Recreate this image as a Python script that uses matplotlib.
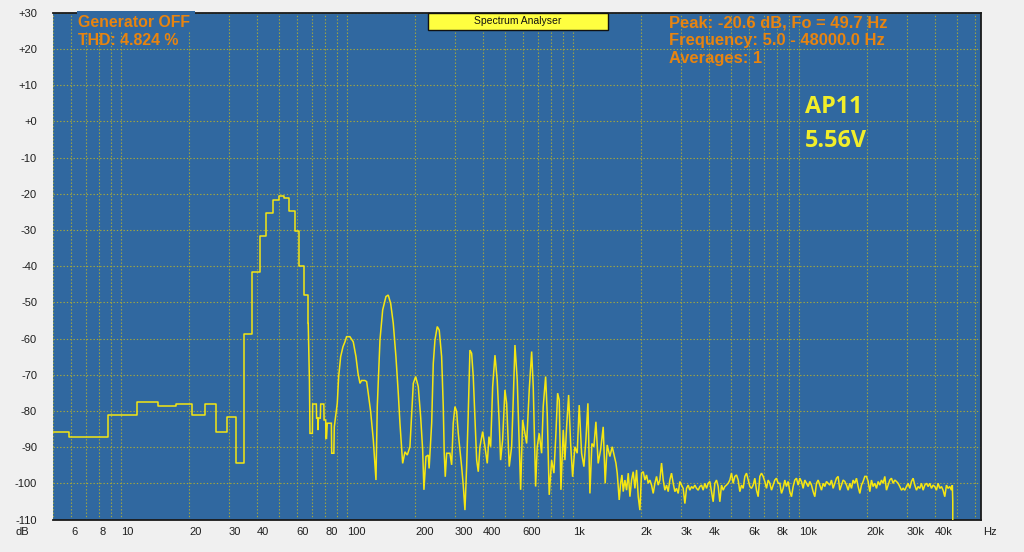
import matplotlib
matplotlib.use("Agg")
import matplotlib.pyplot as plt
from matplotlib.patches import Rectangle

# ---------------- data ----------------
# low-frequency FFT bins (drawn as steps)
bin_freq = [5.0, 5.86, 8.79, 11.72, 14.65, 17.58, 20.51, 23.44, 26.37, 29.30, 32.23,
            35.16, 38.09, 41.02, 43.95, 46.88, 49.80, 52.73, 55.66, 58.59, 61.52,
            64.45, 67.38]
bin_db = [-85.7, -87.3, -81.1, -77.5, -78.6, -78.1, -81.0, -78.1, -85.7, -81.8, -94.3,
          -58.8, -41.6, -31.7, -25.2, -21.7, -20.6, -21.3, -24.7, -30.2, -40.0,
          -48.0, -55.8]

# harmonic region
mid_freq = [67.38, 68.2, 68.6, 70.3, 70.5, 73.2, 73.4, 74.2, 74.4, 74.8, 76.2, 76.5,
            79.0, 79.2, 80.5, 80.7, 81.2, 81.8, 85.3, 85.6, 87.5, 87.9, 90.6, 91.9,
            93.8, 96.0, 98.0, 99.6, 103.0, 106.6, 109.6, 111.9, 114.2, 116.0, 120.0,
            122.2, 124.2, 127.3, 130.8, 134.4, 136.2, 140.0, 143.9, 148.8, 152.3,
            156.1, 160.3, 164.7, 168.7, 171.6, 176.4, 180.6, 184.9, 190.0, 193.4,
            196.6, 201.4, 206.8, 211.9, 216.3, 219.1, 223.7, 229.0, 231.0, 237.1,
            241.0, 245.2, 251.0, 256.1, 262.4, 266.8, 269.5, 272.3, 276.2, 285.6,
            290.6, 295.4, 300.6, 305.8, 310.9, 321.8, 327.1, 332.8, 338.6, 344.2,
            350.2, 356.3, 362.2, 368.6, 375.0, 381.2, 387.8, 398.6, 408.1, 417.8,
            425.1, 432.5, 441.4, 451.9, 462.4, 472.0, 478.7, 488.6, 500.2, 509.0,
            522.6, 535.6, 544.4, 554.0, 567.1, 578.8, 587.1, 599.1, 613.4, 624.1,
            640.8, 656.8, 667.5, 683.9, 695.1, 709.5, 727.0, 739.0, 757.3, 769.7,
            785.5, 805.1, 824.1, 841.1, 855.8, 869.9, 885.1, 906.1, 921.9, 938.0,
            957.3, 977.0, 997.0, 1020.5, 1044.7, 1066.3, 1092.6, 1118.6, 1141.6,
            1165.2, 1189.1, 1213.6, 1238.5, 1264.1, 1293.9, 1326.1, 1361.7, 1389.6,
            1418.3, 1457.8, 1492.4]
mid_db = [-55.8, -71.3, -86.2, -86.2, -78.1, -78.1, -82.0, -82.0, -85.3, -82.0, -82.0, -78.1,
          -78.1, -82.5, -82.5, -87.6, -87.6, -83.4, -83.4, -91.7, -91.7, -84.4, -77.9, -70.5,
          -65.0, -62.3, -60.9, -59.5, -59.5, -60.9, -65.0, -69.6, -72.4, -71.6, -71.6,
          -71.9, -75.1, -80.2, -88.0, -99.1, -78.8, -60.4, -52.1, -48.4, -48.0,
          -50.3, -55.8, -65.0, -75.1, -83.4, -94.5, -91.3, -92.2, -89.9, -80.7,
          -72.4, -70.5, -73.3, -81.6, -90.8, -101.8, -92.6, -92.2, -95.9, -83.4,
          -66.9, -60.4, -56.7, -57.7, -65.0, -78.8, -91.7, -98.2, -91.7, -91.7,
          -94.9, -83.4, -78.8, -80.2, -86.2, -95.4, -100.5, -107.4, -95.4, -80.7,
          -63.2, -64.1, -70.5, -82.5, -93.6, -96.8, -89.9, -85.7, -89.9, -94.5,
          -87.1, -89.9, -73.3, -64.6, -71.5, -83.4, -93.6, -88.0, -74.2, -77.9,
          -95.4, -89.9, -77.0, -61.8, -71.5, -89.9, -101.8, -82.5, -86.2, -89.0,
          -74.2, -63.6, -73.3, -100.9, -89.9, -86.2, -91.7, -78.8, -70.5, -80.7,
          -103.2, -93.6, -97.2, -86.2, -75.1, -77.0, -101.8, -85.3, -93.6, -84.4,
          -75.6, -89.0, -98.2, -89.9, -91.7, -78.4, -91.7, -95.4, -88.0,
          -77.9, -102.8, -89.0, -89.9, -83.0, -94.5, -90.8, -84.4, -100.0,
          -89.4, -92.6, -89.9]

# noise floor region
hf_freq = [1550, 1571, 1603, 1626, 1648, 1670, 1699, 1728, 1758, 1788, 1818, 1849, 1881,
           1913, 1946, 1979, 2013, 2048, 2083, 2118, 2155, 2191, 2229, 2267, 2306, 2345,
           2385, 2426, 2468, 2510, 2553, 2597, 2641, 2686, 2732, 2779, 2827, 2875, 2924,
           2974, 3025, 3077, 3130, 3183, 3238, 3293, 3350, 3407, 3465, 3525, 3585, 3646,
           3709, 3772, 3837, 3903, 3969, 4037, 4107, 4177, 4248, 4321, 4395, 4470, 4547,
           4625, 4704, 4784, 4866, 4950, 5034, 5121, 5208, 5298, 5388, 5481, 5575, 5670,
           5767, 5866, 5966, 6068, 6172, 6278, 6385, 6495, 6606, 6719, 6834, 6951, 7070,
           7191, 7314, 7440, 7567, 7697, 7828, 7962, 8099, 8237, 8378, 8522, 8668, 8816,
           8967, 9120, 9277, 9436, 9597, 9762, 9929, 10099, 10272, 10448, 10627, 10809,
           10994, 11182, 11374, 11569, 11767, 11968, 12173, 12382, 12594, 12810, 13029,
           13252, 13479, 13710, 13945, 14184, 14427, 14674, 14925, 15181, 15441, 15705,
           15974, 16248, 16526, 16809, 17097, 17390, 17688, 17991, 18299, 18612, 18931,
           19255, 19585, 19920, 20261, 20608, 20961, 21320, 21685, 22057, 22434, 22819,
           23209, 23607, 24011, 24422, 24841, 25266, 25699, 26139, 26587, 27042, 27505,
           27976, 28455, 28943, 29438, 29943, 30455, 30977, 31507, 32047, 32596, 33154,
           33722, 34299, 34887, 35484, 36092, 36710, 37339, 37978, 38629, 39290, 39963,
           40648, 41344, 42052, 42772, 43505, 44250, 45008, 45779, 46562, 47360, 47800,
           48000, 48001]
hf_db = [-94.4, -97.2, -104.6, -100.0, -97.7, -102.3, -99.1, -101.9, -97.2, -103.7, -99.1,
         -96.8, -101.4, -96.3, -103.7, -107.4, -97.2, -96.8, -99.1, -97.7, -100.0, -99.1,
         -100.5, -102.8, -100.0, -98.1, -100.5, -99.1, -94.4, -99.1, -101.9, -100.5,
         -102.3, -99.1, -97.2, -100.0, -102.3, -101.4, -102.8, -99.5, -100.5, -101.4,
         -105.6, -101.4, -100.5, -101.9, -100.9, -101.4, -100.5, -101.4, -101.9, -100.9,
         -100.5, -101.9, -100.0, -101.4, -100.0, -99.5, -102.3, -105.1, -100.0, -99.1,
         -100.9, -105.1, -100.5, -101.9, -100.9, -100.5, -100.0, -99.1, -97.2, -100.0,
         -98.1, -97.7, -99.1, -102.3, -100.5, -101.4, -98.1, -97.2, -99.1, -100.9,
         -101.4, -100.5, -98.6, -101.9, -103.7, -98.1, -97.2, -98.1, -99.5, -101.4,
         -99.1, -100.0, -101.9, -100.5, -99.1, -98.6, -100.0, -100.0, -102.8, -101.4,
         -99.1, -100.9, -99.5, -102.3, -103.7, -100.9, -99.1, -98.6, -100.5, -98.6,
         -99.5, -101.4, -99.1, -100.0, -100.9, -99.5, -100.5, -102.3, -103.7, -100.0,
         -99.1, -100.5, -101.9, -100.0, -100.9, -99.5, -100.0, -100.5, -99.1, -101.4,
         -100.0, -98.6, -98.1, -101.9, -100.5, -99.1, -99.5, -100.5, -101.9, -100.0,
         -101.4, -99.1, -100.0, -98.6, -100.9, -102.8, -100.5, -99.5, -98.1, -98.1,
         -99.5, -102.3, -99.1, -100.9, -100.0, -101.4, -99.5, -100.5, -99.1, -100.0,
         -98.1, -101.9, -100.5, -99.1, -98.6, -100.0, -99.1, -99.5, -100.0, -100.9,
         -101.9, -101.4, -101.9, -100.9, -100.0, -101.4, -99.5, -98.6, -100.5, -101.9,
         -100.9, -101.4, -100.0, -101.9, -100.5, -100.0, -100.9, -100.0, -101.4,
         -100.5, -100.9, -101.9, -100.0, -101.4, -100.9, -101.9, -103.7, -100.5,
         -101.4, -100.9, -101.9, -100.5, -105.1, -115.0]

grid_freqs = [5, 6, 7, 8, 9, 10, 20, 30, 40, 50, 60, 70, 80, 90, 100, 200, 300, 400, 500,
              600, 700, 800, 900, 1000, 2000, 3000, 4000, 5000, 6000, 7000, 8000, 9000,
              10000, 20000, 30000, 40000, 50000, 60000]
x_labels = {6: "6", 8: "8", 10: "10", 20: "20", 30: "30", 40: "40", 60: "60", 80: "80",
            100: "100", 200: "200", 300: "300", 400: "400", 600: "600", 1000: "1k",
            2000: "2k", 3000: "3k", 4000: "4k", 6000: "6k", 8000: "8k", 10000: "10k",
            20000: "20k", 30000: "30k", 40000: "40k"}
y_ticks = [30, 20, 10, 0, -10, -20, -30, -40, -50, -60, -70, -80, -90, -100, -110]
y_labels = ["+30", "+20", "+10", "+0", "-10", "-20", "-30", "-40", "-50", "-60", "-70",
            "-80", "-90", "-100", "-110"]

# ---------------- styling ----------------
W, H = 1024, 552
BG = "#f0f0f0"
PLOT_BG = "#3068a0"
GRID = "#a6a83c"
LINE = "#f5e612"
ORANGE = "#e8840f"
TICK_FONT = "Liberation Sans"

fig = plt.figure(figsize=(W / 100, H / 100), dpi=100, facecolor=BG)
ax = fig.add_axes([53 / W, 1 - 519.5 / H, 928 / W, 506.8 / H])
ax.set_facecolor(PLOT_BG)
ax.set_xscale("log")
ax.set_xlim(5, 64000)
ax.set_ylim(-110, 30)

ax.set_xticks(grid_freqs)
ax.set_xticklabels([x_labels.get(f, "") for f in grid_freqs])
ax.xaxis.set_minor_locator(plt.NullLocator())
ax.set_yticks(y_ticks)
ax.set_yticklabels(y_labels)
ax.tick_params(axis="both", length=0, labelsize=8, labelcolor="#1e1e1e")
ax.tick_params(axis="x", pad=5.5)
ax.tick_params(axis="y", pad=11.5)
for lab in ax.get_xticklabels() + ax.get_yticklabels():
    lab.set_fontfamily(TICK_FONT)
for lab in ax.get_xticklabels():
    lab.set_horizontalalignment("left")

ax.grid(True, color=GRID, linestyle=(0, (1.2, 1.8)), linewidth=0.8)
ax.set_axisbelow(True)

for side in ("top", "right", "bottom"):
    ax.spines[side].set_color("#1a1a1a")
    ax.spines[side].set_linewidth(1.3)
ax.spines["left"].set_visible(False)

# spectrum
ax.step(bin_freq, bin_db, where="post", color=LINE, linewidth=1.1, zorder=3)
ax.plot(mid_freq + hf_freq, mid_db + hf_db, color=LINE, linewidth=1.1, zorder=3,
        solid_joinstyle="miter")

# axis unit labels
fig.text(15 / W, 1 - 532 / H, "dB", fontsize=8, family=TICK_FONT, color="#1e1e1e",
         ha="left", va="center")
fig.text(983 / W, 1 - 532 / H, "Hz", fontsize=8, family=TICK_FONT, color="#1e1e1e",
         ha="left", va="center")

# background box behind "Generator OFF" (covers top frame)
fig.patches.append(Rectangle((77 / W, 1 - 31.7 / H), 118 / W, 21 / H,
                             transform=fig.transFigure, facecolor=PLOT_BG,
                             edgecolor="none", zorder=2))
fig.text(78 / W, 1 - 27.3 / H, "Generator OFF", fontsize=11.4, fontweight="bold",
         family=TICK_FONT, color=ORANGE, va="baseline", zorder=3)
fig.text(78 / W, 1 - 45.0 / H, "THD: 4.824 %", fontsize=11.4, fontweight="bold",
         family=TICK_FONT, color=ORANGE, va="baseline", zorder=3)

# title box
fig.patches.append(Rectangle((427.7 / W, 1 - 30 / H), 180.6 / W, 17.3 / H,
                             transform=fig.transFigure, facecolor="#ffff40",
                             edgecolor="#111111", linewidth=1.0, zorder=2))
fig.text(518 / W, 1 - 21.5 / H, "Spectrum Analyser", fontsize=7.5, family=TICK_FONT,
         color="#111111", ha="center", va="center", zorder=3)

# info text right
for i, s in enumerate(["Peak: -20.6 dB, Fo = 49.7 Hz", "Frequency: 5.0 - 48000.0 Hz",
                       "Averages: 1"]):
    fig.text(669 / W, 1 - (27.3 + 18.0 * i) / H, s, fontsize=11.9, fontweight="bold",
             family=TICK_FONT, color=ORANGE, va="baseline", zorder=3)

# annotation
fig.text(805 / W, 1 - 113.3 / H, "AP11", fontsize=16.8, fontweight="bold",
         family="Open Sans", color="#f2ee2a", va="baseline", zorder=3)
fig.text(805 / W, 1 - 146.7 / H, "5.56V", fontsize=16.8, fontweight="bold",
         family="Open Sans", color="#f2ee2a", va="baseline", zorder=3)

fig.savefig("out.png", dpi=100, facecolor=BG)
